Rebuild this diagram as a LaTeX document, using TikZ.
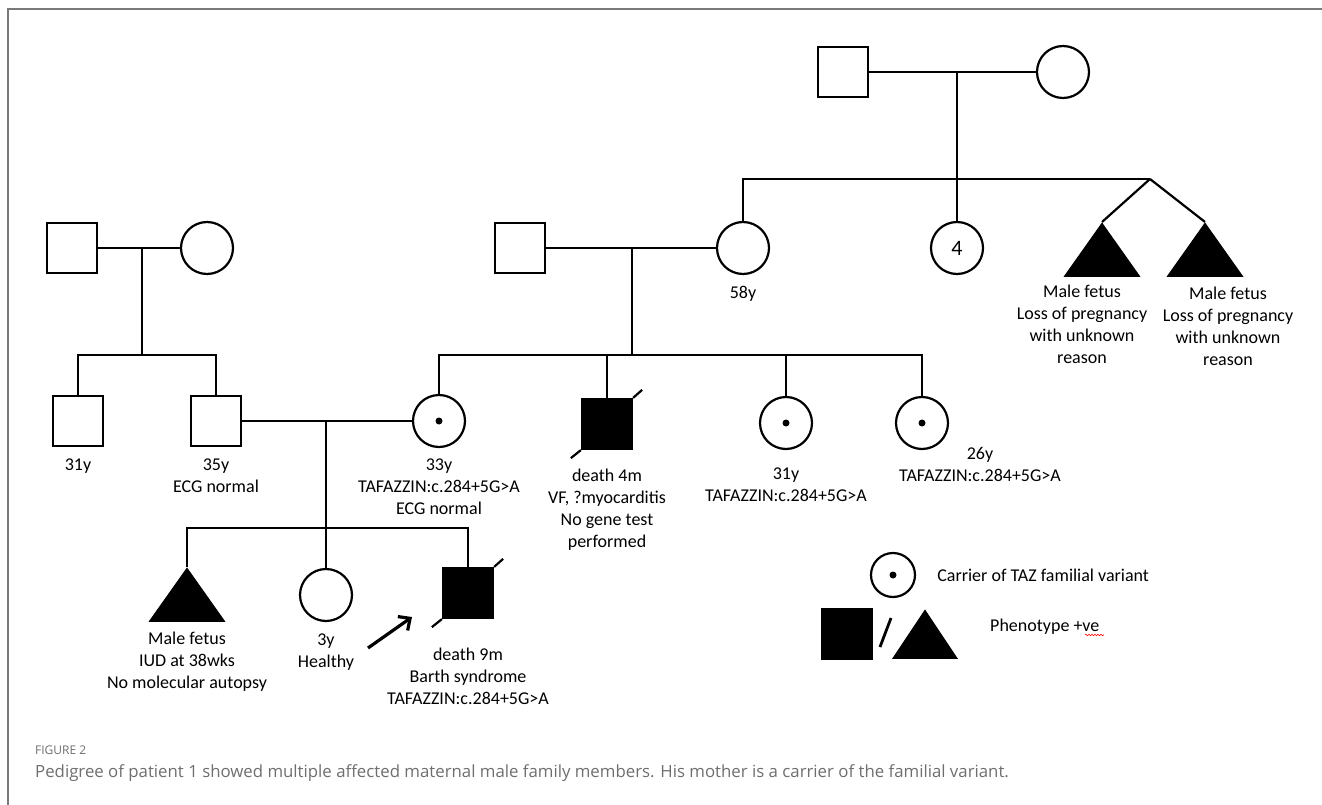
\documentclass[tikz,border=0pt]{standalone}
\usepackage{fontspec}
\setmainfont{Carlito}
\newfontfamily\capfont{Open Sans}
\usetikzlibrary{arrows.meta, positioning, shapes.geometric, decorations.pathmorphing}
\definecolor{capgray}{HTML}{6E6E6E}
\definecolor{framegray}{HTML}{7A7A7A}

\begin{document}
\begin{tikzpicture}[
    x=1pt, y=-1pt,
    pedline/.style = {line width=2.2pt},
    male/.style = {draw, line width=2.2pt, rectangle, minimum size=50pt, inner sep=0pt},
    female/.style = {draw, line width=2.2pt, circle, minimum size=52pt, inner sep=0pt},
    fetus/.style = {draw, line width=1pt, fill=black, isosceles triangle, shape border rotate=90,
                    isosceles triangle stretches, minimum width=75pt, minimum height=53pt,
                    inner sep=0pt, anchor=apex},
    affected/.style = {fill=black},
    carrier/.style = {path picture={\fill (path picture bounding box.center) circle (3.5pt);}},
    deceased/.style = {append after command={
        (\tikzlastnode.north east) edge[pedline] ++(9,-8)
        (\tikzlastnode.south west) edge[pedline] ++(-10,8)}},
    lbl/.style = {align=center, inner sep=0pt, font=\fontsize{18}{22}\selectfont},
  ]
  \useasboundingbox (0,0) rectangle (1322,805);

  % Frame of the figure
  \draw[framegray, line width=1.3pt] (1322,9) -- (8,9) -- (8,805);

  % Great grandparents
  \node[male] (ggpa) at (843,72) {};
  \node[female] (ggma) at (1063,72) {};
  \coordinate (ggmid) at (957,72);
  \coordinate (twins) at (1150,179);

  % Their children
  \node[female] (gma) at (743,248) {};
  \node[lbl, below=11pt of gma] (gmaTxt) {58y};
  \node[female, font=\fontsize{22}{26}\selectfont] (aunts) at (957,248) {4};
  \node[fetus] (fetA) at (1102,222) {};
  \node[fetus] (fetB) at (1205,222) {};
  \node[lbl, below=8pt of fetA, xshift=-20pt] (fetAtxt) {Male fetus\\Loss of pregnancy\\with unknown\\reason};
  \node[lbl, below=10pt of fetB, xshift=23pt] (fetBtxt) {Male fetus\\Loss of pregnancy\\with unknown\\reason};

  % Maternal grandfather
  \node[male] (gpa) at (520,248) {};
  \coordinate (gmid) at (632,248);
  \coordinate (sibB) at (632,355);

  % Paternal grandparents
  \node[male] (pgpa) at (72,248) {};
  \node[female] (pgma) at (207,248) {};
  \coordinate (pmid) at (142,248);
  \coordinate (sibC) at (142,355);

  % Parents generation
  \node[male] (uncleP) at (78,421) {};
  \node[male] (father) at (216,421) {};
  \node[female, carrier] (mother) at (439,421) {};
  \node[male, affected, deceased] (uncle) at (607,424) {};
  \node[female, carrier] (aunt31) at (786,423) {};
  \node[female, carrier] (aunt26) at (922,423) {};

  % Proband generation
  \coordinate (cmid) at (326,421);
  \coordinate (sibD) at (326,528);
  \node[fetus] (fetC) at (187,567) {};
  \node[female] (sister) at (326,595) {};
  \node[male, affected, deceased] (proband) at (468,593) {};

  % Lines
  \draw[pedline] (ggpa) -- (ggma);
  \draw[pedline] (ggmid) -- (aunts);
  \draw[pedline] (gma) |- (twins);
  \draw[pedline] (twins) -- (fetA.apex);
  \draw[pedline] (twins) -- (fetB.apex);

  \draw[pedline] (gpa) -- (gma);
  \draw[pedline] (gmid) -- (sibB);
  \draw[pedline] (mother) |- (sibB) -| (aunt26);
  \draw[pedline] (uncle) -- (uncle |- sibB);
  \draw[pedline] (aunt31) -- (aunt31 |- sibB);

  \draw[pedline] (pgpa) -- (pgma);
  \draw[pedline] (pmid) -- (sibC);
  \draw[pedline] (uncleP) |- (sibC) -| (father);

  \draw[pedline] (father) -- (mother);
  \draw[pedline] (cmid) -- (sister);
  \draw[pedline] (fetC) |- (sibD) -| (proband);

  % Proband pointer
  \coordinate (ptrTail) at (368,648);
  \coordinate (ptrTip) at (412,617);
  \draw[line width=3.2pt, -{Straight Barb[length=9pt, width=17pt]}] (ptrTail) -- (ptrTip);

  % Labels
  \node[lbl, below=12pt of uncleP] (unclePtxt) {31y};
  \node[lbl, below=12pt of father] (fatherTxt) {35y\\ECG normal};
  \node[lbl, below=11pt of mother] (motherTxt) {33y\\TAFAZZIN:c.284+5G>A\\ECG normal};
  \node[lbl, below=19pt of uncle] (uncleTxt) {death 4m\\VF, ?myocarditis\\No gene test\\performed};
  \node[lbl, below=18pt of aunt31] (aunt31Txt) {31y\\TAFAZZIN:c.284+5G>A};
  \node[lbl, anchor=north] (aunt26Txt) at (980,447) {26y\\TAFAZZIN:c.284+5G>A};
  \node[lbl, below=10pt of fetC] (fetCtxt) {Male fetus\\IUD at 38wks\\No molecular autopsy};
  \node[lbl, below=12pt of sister] (sisterTxt) {3y\\Healthy};
  \node[lbl, below=29pt of proband] (probandTxt) {death 9m\\Barth syndrome\\TAFAZZIN:c.284+5G>A};

  % Key
  \node[female, minimum size=44pt, carrier] (keyC) at (893,575) {};
  \node[lbl, right=21pt of keyC] (keyCtxt) {Carrier of TAZ familial variant};
  \node[male, affected] (keyS) at (847,634) {};
  \node[fetus, minimum width=64pt, minimum height=48pt] (keyT) at (925,609) {};
  \draw[line width=2.8pt] (880,647) -- (891,618);
  \node[lbl, anchor=west] (keyTtxt) at (990,627) {Phenotype +ve};
  \draw[red, line width=0.6pt, decorate, decoration={snake, amplitude=0.8pt, segment length=3pt}] (1085,635) -- (1104,635);

  % Caption
  \node[anchor=west, inner sep=0pt, text=capgray, font=\capfont\fontsize{12}{14}\selectfont] (figNo) at (35,750) {FIGURE 2};
  \node[anchor=west, inner sep=0pt, text=capgray, font=\capfont\fontsize{16.8}{20}\selectfont] (figCap) at (35,773) {Pedigree of patient 1 showed multiple affected maternal male family members. His mother is a carrier of the familial variant.};

\end{tikzpicture}
\end{document}
